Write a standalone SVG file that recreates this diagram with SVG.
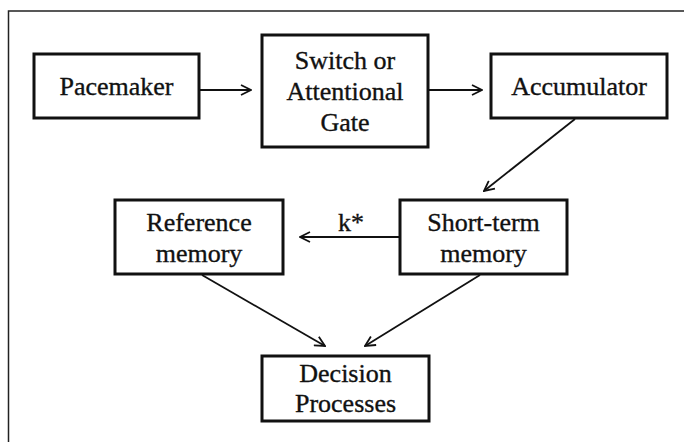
<svg xmlns="http://www.w3.org/2000/svg" width="684" height="442" viewBox="0 0 684 442">
<defs>
<style>
.box{fill:#fff;stroke:#111;stroke-width:3}
.t{font-family:"Liberation Serif","Times New Roman",serif;font-size:26px;fill:#111;stroke:#111;stroke-width:0.35;text-anchor:middle}
.c{fill:none;stroke:#111;stroke-width:1.8}
.frame{fill:none;stroke:#222;stroke-width:1.5}
</style>
<marker id="ah" viewBox="0 0 12 12" refX="11" refY="6" markerWidth="12" markerHeight="12" markerUnits="userSpaceOnUse" orient="auto">
<path d="M1,1 L11,6 L1,11" fill="none" stroke="#111" stroke-width="1.8"/>
</marker>
</defs>
<rect width="684" height="442" fill="#fff"/>
<path class="frame" d="M8.5,442 V11 H684"/>
<g id="pacemaker">
<rect class="box" x="34" y="54" width="165" height="64"/>
<text class="t" x="116.5" y="95">Pacemaker</text>
</g>
<g id="switch">
<rect class="box" x="262" y="35" width="166" height="112"/>
<text class="t" x="345" y="69">Switch or</text>
<text class="t" x="345" y="100">Attentional</text>
<text class="t" x="345" y="131">Gate</text>
</g>
<g id="accumulator">
<rect class="box" x="491" y="54" width="176" height="64"/>
<text class="t" x="579" y="95">Accumulator</text>
</g>
<g id="reference">
<rect class="box" x="115" y="200" width="168" height="74"/>
<text class="t" x="199" y="231">Reference</text>
<text class="t" x="199" y="262">memory</text>
</g>
<g id="shortterm">
<rect class="box" x="400" y="200" width="167" height="74"/>
<text class="t" x="483.5" y="231">Short-term</text>
<text class="t" x="483.5" y="262">memory</text>
</g>
<g id="decision">
<rect class="box" x="262" y="356" width="167" height="65"/>
<text class="t" x="345.5" y="382">Decision</text>
<text class="t" x="345.5" y="412">Processes</text>
</g>
<g id="connectors">
<line class="c" x1="199" y1="90" x2="251" y2="90" marker-end="url(#ah)"/>
<line class="c" x1="428" y1="90" x2="482" y2="90" marker-end="url(#ah)"/>
<line class="c" x1="575" y1="119" x2="484" y2="191" marker-end="url(#ah)"/>
<line class="c" x1="400" y1="237" x2="300" y2="237" marker-end="url(#ah)"/>
<line class="c" x1="202" y1="275" x2="325" y2="346" marker-end="url(#ah)"/>
<line class="c" x1="480" y1="275" x2="365" y2="346" marker-end="url(#ah)"/>
<text class="t" x="351" y="231">k*</text>
</g>
</svg>
